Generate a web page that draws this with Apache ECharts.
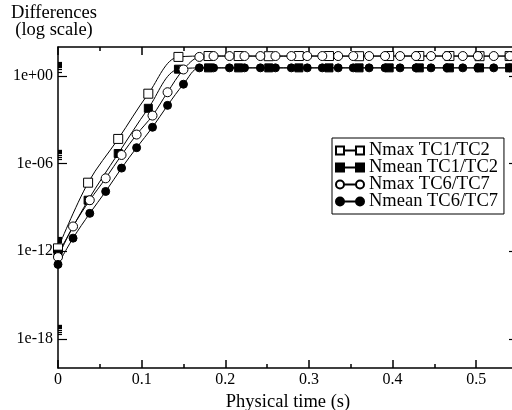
<!DOCTYPE html>
<html>
<head>
<meta charset="utf-8">
<script src="https://cdn.jsdelivr.net/npm/echarts@6/dist/echarts.min.js"></script>
<style>
  html, body { margin: 0; padding: 0; background: #fff; }
  #main { width: 512px; height: 410px; }
</style>
</head>
<body>
<div id="main"></div>
<script>
// times (s) of the saved points
var tc12Time = [0, 0.036, 0.072, 0.108, 0.144, 0.18, 0.216, 0.252, 0.288, 0.324, 0.36, 0.396, 0.432, 0.468, 0.504, 0.54];
var tc67Time = [0, 0.018, 0.038, 0.057, 0.076, 0.094, 0.113, 0.131, 0.15, 0.169, 0.186, 0.205, 0.223, 0.242, 0.26, 0.279,
                0.298, 0.316, 0.335, 0.353, 0.372, 0.391, 0.409, 0.428, 0.446, 0.465, 0.484, 0.502, 0.521, 0.54];

// differences, as log10 of the value
var nmaxTC12 = [-11.8, -7.3, -4.3, -1.2, 1.32, 1.38, 1.38, 1.37, 1.38, 1.38, 1.37, 1.38, 1.38, 1.38, 1.37, 1.38];
var nmeanTC12 = [-12.2, -8.5, -5.3, -2.2, 0.48, 0.57, 0.57, 0.57, 0.57, 0.57, 0.57, 0.57, 0.57, 0.57, 0.57, 0.57];
var nmaxTC67 = [-12.4, -10.3, -8.5, -7.0, -5.4, -4.0, -2.7, -1.1, 0.46, 1.32, 1.38, 1.38, 1.38, 1.38, 1.38, 1.38,
                1.38, 1.38, 1.38, 1.38, 1.38, 1.38, 1.38, 1.38, 1.38, 1.38, 1.38, 1.38, 1.38, 1.38];
var nmeanTC67 = [-12.9, -11.1, -9.4, -7.9, -6.3, -4.9, -3.5, -2.0, -0.55, 0.57, 0.57, 0.57, 0.57, 0.57, 0.57, 0.57,
                 0.57, 0.57, 0.57, 0.57, 0.57, 0.57, 0.57, 0.57, 0.57, 0.57, 0.57, 0.57, 0.57, 0.57];

var seriesNames = ['Nmax TC1/TC2', 'Nmean TC1/TC2', 'Nmax TC6/TC7', 'Nmean TC6/TC7'];

// tick labels
var xTicks = [0, 0.1, 0.2, 0.3, 0.4, 0.5];
var xMinorTicks = [0.05, 0.15, 0.25, 0.35, 0.45];
var yTicks = [-18, -12, -6, 0];

var font = 'Liberation Serif';

// xmgrace style log minor ticks (2..9 x 10^k), bunched just above each major
var yMinorTicks = [];
yTicks.forEach(function (k) {
    for (var m = 2; m <= 9; m++) yMinorTicks.push(k + Math.log10(m));
});

function pairs(xs, ys) {
    return xs.map(function (x, i) { return [x, ys[i]]; });
}
function expLabel(v) {
    var a = Math.abs(Math.round(v));
    return '1e' + (v < 0 ? '-' : '+') + (a < 10 ? '0' : '') + a;
}

var chartDom = document.getElementById('main');
var myChart = echarts.init(chartDom, null, { renderer: 'canvas' });

var axisLine = { show: true, onZero: false, lineStyle: { color: '#000', width: 1.5 } };
var noLine = { show: false, onZero: false };

function xAx(pos, ticks, len, withLine, withLabel) {
    return {
        type: 'value', position: pos, min: 0, max: 0.55,
        axisLine: withLine ? axisLine : noLine,
        axisTick: { show: true, inside: true, length: len, customValues: ticks, lineStyle: { color: '#000', width: 1.5 } },
        axisLabel: withLabel ? {
            show: true, customValues: ticks, margin: 4, color: '#000', fontFamily: font, fontSize: 16,
            formatter: function (v) { return v === 0 ? '0' : String(+v.toFixed(2)); }
        } : { show: false },
        splitLine: { show: false }
    };
}
function yAx(pos, ticks, len, withLine, withLabel) {
    return {
        type: 'value', position: pos, min: -20, max: 2,
        axisLine: withLine ? axisLine : noLine,
        axisTick: { show: true, inside: true, length: len, customValues: ticks, lineStyle: { color: '#000', width: 1.2 } },
        axisLabel: withLabel ? {
            show: true, customValues: ticks, margin: 5, color: '#000', fontFamily: font, fontSize: 16,
            formatter: expLabel
        } : { show: false },
        splitLine: { show: false }
    };
}

var xAxes = [
    xAx('bottom', xTicks, 8, true, true),
    xAx('bottom', xMinorTicks, 4, false, false),
    xAx('top', xTicks, 8, true, false),
    xAx('top', xMinorTicks, 4, false, false)
];
xAxes[0].name = 'Physical time (s)';
xAxes[0].nameLocation = 'middle';
xAxes[0].nameGap = 17;
xAxes[0].nameTextStyle = { color: '#000', fontFamily: font, fontSize: 18.5 };

var yAxes = [
    yAx('left', yTicks, 9, true, true),
    yAx('left', yMinorTicks, 4, false, false),
    yAx('right', yTicks, 9, true, false)
];
yAxes[0].name = 'Differences\n(log scale)';
yAxes[0].nameLocation = 'end';
yAxes[0].nameGap = 8;
yAxes[0].nameTextStyle = { color: '#000', fontFamily: font, fontSize: 18.5, lineHeight: 17, align: 'center', padding: [0, 8, 0, 0] };

var sqIcon = 'path://M0 0H8V8H0Z M8 4H20 M20 0H28V8H20Z';
var ciIcon = 'path://M0 4A4 4 0 1 0 8 4A4 4 0 1 0 0 4Z M8 4H20 M20 4A4 4 0 1 0 28 4A4 4 0 1 0 20 4Z';

function mkSeries(name, xs, ys, symbol, size, filled) {
    return {
        name: name, type: 'line', xAxisIndex: 0, yAxisIndex: 0,
        data: pairs(xs, ys),
        smooth: 0.35,
        symbol: symbol, symbolSize: size, showAllSymbol: true,
        lineStyle: { color: '#000', width: 1 },
        itemStyle: { color: filled ? '#000' : '#fff', borderColor: '#000', borderWidth: 1 },
        emphasis: { disabled: true },
        animation: false
    };
}

option = {
    animation: false,
    grid: { left: 58, top: 47, right: -6, bottom: 42, containLabel: false, outerBoundsMode: 'none' },
    xAxis: xAxes,
    yAxis: yAxes,
    legend: {
        orient: 'vertical', left: 332, top: 138,
        padding: [3, 6, 3, 3], itemGap: -2, itemWidth: 28, itemHeight: 8,
        backgroundColor: '#fff', borderColor: '#000', borderWidth: 1, borderRadius: 0,
        textStyle: { color: '#000', fontFamily: font, fontSize: 18.5, lineHeight: 17 },
        selectedMode: false,
        data: [
            { name: seriesNames[0], icon: sqIcon },
            { name: seriesNames[1], icon: sqIcon },
            { name: seriesNames[2], icon: ciIcon },
            { name: seriesNames[3], icon: ciIcon }
        ]
    },
    series: [
        mkSeries(seriesNames[0], tc12Time, nmaxTC12, 'rect', 9, false),
        mkSeries(seriesNames[1], tc12Time, nmeanTC12, 'rect', 8, true),
        mkSeries(seriesNames[2], tc67Time, nmaxTC67, 'circle', 9, false),
        mkSeries(seriesNames[3], tc67Time, nmeanTC67, 'circle', 8, true)
    ]
};
myChart.setOption(option);
</script>
</body>
</html>
